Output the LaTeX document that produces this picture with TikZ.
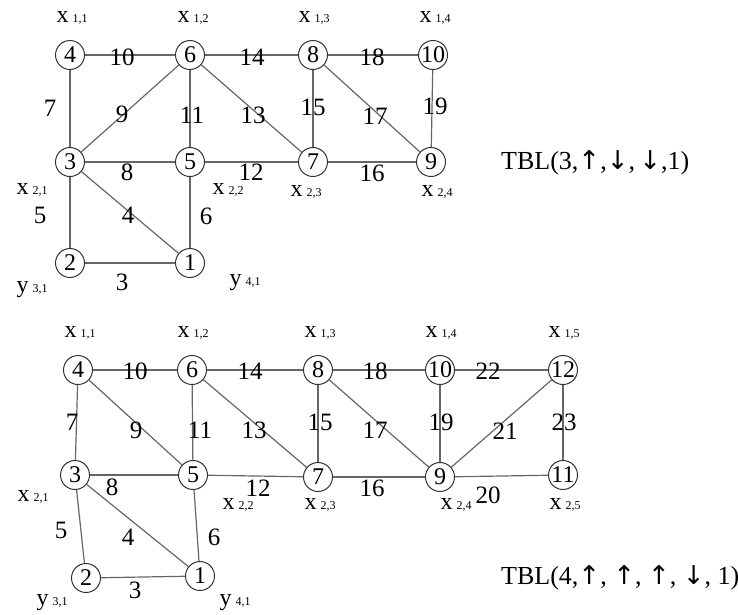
\documentclass[tikz,border=0pt]{standalone}
\usepackage{fontspec}
\setmainfont{Liberation Serif}
\newfontfamily\arrowfont{DejaVu Sans}
\newcommand{\vlab}[2]{#1\,{\fontsize{12}{12}\selectfont #2}}
\newcommand{\upa}{{\arrowfont ↑}}
\newcommand{\dna}{{\arrowfont ↓}}
\begin{document}
\begin{tikzpicture}[x=1pt,y=-1pt,
 vtx/.style={circle,draw=black!80,line width=1pt,minimum size=29pt,inner sep=0pt,font=\fontsize{24}{24}\selectfont},
 edge/.style={draw=black!60,line width=1.2pt},
 el/.style={font=\fontsize{25}{25}\selectfont,inner sep=0pt},
 vl/.style={font=\fontsize{24}{24}\selectfont,inner sep=0pt},
 tbl/.style={font=\fontsize{26}{26}\selectfont,inner sep=0pt,anchor=west}]
\useasboundingbox (0,0) rectangle (738,614);
% ---------- top graph ----------
\node[vtx] (a4) at (70,55) {4};
\node[vtx] (a6) at (190,55) {6};
\node[vtx] (a8) at (313,55) {8};
\node[vtx] (a10) at (433,55) {10};
\node[vtx] (a3) at (70,162) {3};
\node[vtx] (a5) at (190,162) {5};
\node[vtx] (a7) at (313,162) {7};
\node[vtx] (a9) at (431,162) {9};
\node[vtx] (a2) at (70,263) {2};
\node[vtx] (a1) at (190,263) {1};
\draw[edge] (a4) -- (a6); \draw[edge] (a6) -- (a8); \draw[edge] (a8) -- (a10);
\draw[edge] (a4) -- (a3); \draw[edge] (a3) -- (a6); \draw[edge] (a6) -- (a5);
\draw[edge] (a6) -- (a7); \draw[edge] (a8) -- (a7); \draw[edge] (a8) -- (a9);
\draw[edge] (a10) -- (a9); \draw[edge] (a3) -- (a5); \draw[edge] (a5) -- (a7);
\draw[edge] (a7) -- (a9); \draw[edge] (a3) -- (a2); \draw[edge] (a3) -- (a1);
\draw[edge] (a5) -- (a1); \draw[edge] (a2) -- (a1);
\node[el] (ae10) at (122,57) {10};
\node[el] (ae14) at (252,57) {14};
\node[el] (ae18) at (372,57) {18};
\node[el] (ae7) at (50,108) {7};
\node[el] (ae9) at (122,114) {9};
\node[el] (ae11) at (192,115) {11};
\node[el] (ae13) at (253,115) {13};
\node[el] (ae15) at (313,107) {15};
\node[el] (ae17) at (375,116) {17};
\node[el] (ae19) at (435,106) {19};
\node[el] (ae8) at (127,172) {8};
\node[el] (ae12) at (251,172) {12};
\node[el] (ae16) at (372,173) {16};
\node[el] (ae5) at (40,215) {5};
\node[el] (ae4) at (128,215) {4};
\node[el] (ae6) at (206,216) {6};
\node[el] (ae3) at (122,282) {3};
\node[vl] (ax11) at (72,18) {\vlab{x}{1,1}};
\node[vl] (ax12) at (193,18) {\vlab{x}{1,2}};
\node[vl] (ax13) at (314,18) {\vlab{x}{1,3}};
\node[vl] (ax14) at (435,18) {\vlab{x}{1,4}};
\node[vl] (ax21) at (32,190) {\vlab{x}{2,1}};
\node[vl] (ax22) at (228,190) {\vlab{x}{2,2}};
\node[vl] (ax23) at (306,192) {\vlab{x}{2,3}};
\node[vl] (ax24) at (437,192) {\vlab{x}{2,4}};
\node[vl] (ay31) at (32,290) {\vlab{y}{3,1}};
\node[vl] (ay41) at (245,283) {\vlab{y}{4,1}};
\node[tbl] (atbl) at (501,163) {TBL(3,\upa,\dna,\,\dna,1)};
% ---------- bottom graph ----------
\node[vtx] (b4) at (78,370) {4};
\node[vtx] (b6) at (192,370) {6};
\node[vtx] (b8) at (318,370) {8};
\node[vtx] (b10) at (440,370) {10};
\node[vtx] (b12) at (563,370) {12};
\node[vtx] (b3) at (75,475) {3};
\node[vtx] (b5) at (193,475) {5};
\node[vtx] (b7) at (318,477) {7};
\node[vtx] (b9) at (440,477) {9};
\node[vtx] (b11) at (563,475) {11};
\node[vtx] (b2) at (86,578) {2};
\node[vtx] (b1) at (200,576) {1};
\draw[edge] (b4) -- (b6); \draw[edge] (b6) -- (b8); \draw[edge] (b8) -- (b10);
\draw[edge] (b10) -- (b12); \draw[edge] (b4) -- (b3); \draw[edge] (b4) -- (b5);
\draw[edge] (b6) -- (b5); \draw[edge] (b6) -- (b7); \draw[edge] (b8) -- (b7);
\draw[edge] (b8) -- (b9); \draw[edge] (b10) -- (b9); \draw[edge] (b12) -- (b9);
\draw[edge] (b12) -- (b11); \draw[edge] (b3) -- (b5); \draw[edge] (b5) -- (b7);
\draw[edge] (b7) -- (b9); \draw[edge] (b9) -- (b11); \draw[edge] (b3) -- (b2);
\draw[edge] (b3) -- (b1); \draw[edge] (b5) -- (b1); \draw[edge] (b2) -- (b1);
\node[el] (be10) at (135,371) {10};
\node[el] (be14) at (250,371) {14};
\node[el] (be18) at (375,371) {18};
\node[el] (be22) at (488,371) {22};
\node[el] (be7) at (72,422) {7};
\node[el] (be9) at (136,430) {9};
\node[el] (be11) at (200,430) {11};
\node[el] (be13) at (254,430) {13};
\node[el] (be15) at (320,422) {15};
\node[el] (be17) at (375,430) {17};
\node[el] (be19) at (441,422) {19};
\node[el] (be21) at (505,431) {21};
\node[el] (be23) at (564,422) {23};
\node[el] (be8) at (112,487) {8};
\node[el] (be12) at (258,488) {12};
\node[el] (be16) at (372,488) {16};
\node[el] (be20) at (488,495) {20};
\node[el] (be5) at (61,530) {5};
\node[el] (be4) at (128,537) {4};
\node[el] (be6) at (214,537) {6};
\node[el] (be3) at (135,590) {3};
\node[vl] (bx11) at (80,333) {\vlab{x}{1,1}};
\node[vl] (bx12) at (193,333) {\vlab{x}{1,2}};
\node[vl] (bx13) at (320,333) {\vlab{x}{1,3}};
\node[vl] (bx14) at (441,333) {\vlab{x}{1,4}};
\node[vl] (bx15) at (564,333) {\vlab{x}{1,5}};
\node[vl] (bx21) at (33,497) {\vlab{x}{2,1}};
\node[vl] (bx22) at (238,505) {\vlab{x}{2,2}};
\node[vl] (bx23) at (320,505) {\vlab{x}{2,3}};
\node[vl] (bx24) at (456,505) {\vlab{x}{2,4}};
\node[vl] (bx25) at (565,505) {\vlab{x}{2,5}};
\node[vl] (by31) at (52,603) {\vlab{y}{3,1}};
\node[vl] (by41) at (235,603) {\vlab{y}{4,1}};
\node[tbl] (btbl) at (501,578) {TBL(4,\upa, \upa, \upa, \dna, 1)};
\end{tikzpicture}
\end{document}
